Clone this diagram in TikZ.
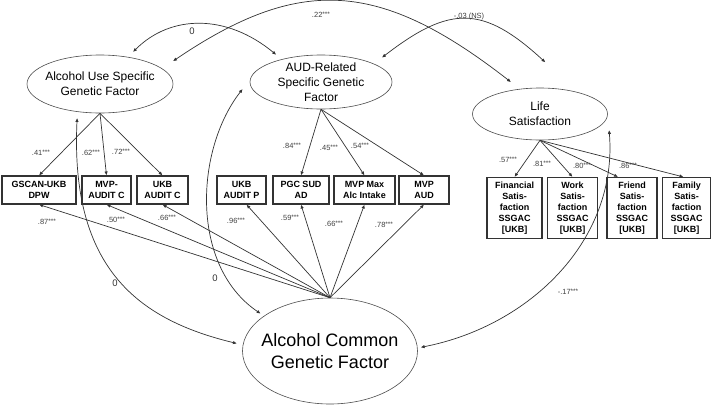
\documentclass[tikz,border=0pt]{standalone}
\usepackage{fontspec}
\setmainfont{Liberation Sans}
\usepackage{tikz}
\usetikzlibrary{
    arrows.meta,
    positioning,
    shapes.geometric,
}

\newcommand{\stars}{\raisebox{1.2pt}{\fontsize{6.5}{6.5}\selectfont ***}}

\begin{document}
\begin{tikzpicture}[
        x=1pt, y=-1pt,
        >={Latex[length=4pt,width=3.4pt]},
        latent/.style={
            ellipse, draw=black!70, semithick,
            inner xsep=-8pt, inner ysep=-3pt,
            align=center, font=\fontsize{12}{15}\selectfont
        },
        obs/.style={
            rectangle, draw=black!80, line width=1.1pt,
            minimum width=#1, minimum height=28pt, inner sep=2pt,
            align=center, font=\fontsize{9}{11}\selectfont\bfseries
        },
        obs/.default=50pt,
        loading/.style={->, black!80, line width=0.7pt},
        cov/.style={<->, black!80, line width=0.7pt},
        coef/.style={font=\fontsize{7.5}{8}\selectfont, text=black!75, inner sep=0pt},
        zero/.style={font=\fontsize{9.5}{11}\selectfont, text=black!80, inner sep=0pt},
    ]
    \useasboundingbox (0,0) rectangle (711,405);

    % ── Latent factors ──
    \node[latent, minimum width=146pt, minimum height=58pt] (aus) at (100,84)
        {Alcohol Use Specific\\Genetic Factor};
    \node[latent, minimum width=142pt, minimum height=54pt] (aud) at (321,82)
        {AUD-Related\\Specific Genetic\\Factor};
    \node[latent, minimum width=135pt, minimum height=52pt] (ls) at (540,114)
        {Life\\Satisfaction};
    \node[latent, minimum width=175pt, minimum height=106pt,
        font=\fontsize{18}{22}\selectfont] (acgf) at (330,351)
        {Alcohol Common\\Genetic Factor};

    % ── Row 1: alcohol indicators ──
    \node[obs=74pt] (gscan) at (39,190) {GSCAN-UKB\\DPW};
    \node[obs=49pt] (mvpc) at (106.5,190) {MVP-\\AUDIT C};
    \node[obs=51pt] (ukbc) at (162.5,190) {UKB\\AUDIT C};
    \node[obs=49pt] (ukbp) at (241.5,190) {UKB\\AUDIT P};
    \node[obs=56pt] (pgc) at (301,190) {PGC SUD\\AD};
    \node[obs=61pt] (mvpmax) at (364.5,190) {MVP Max\\Alc Intake};
    \node[obs=50pt] (mvpaud) at (424,190) {MVP\\AUD};

    % ── Row 1: satisfaction indicators ──
    \node[obs=55pt, minimum height=61pt] (fin) at (514.5,208)
        {Financial\\Satis-\\faction\\SSGAC\\{[UKB]}};
    \node[obs=50pt, minimum height=61pt] (work) at (572.5,208)
        {Work\\Satis-\\faction\\SSGAC\\{[UKB]}};
    \node[obs=50pt, minimum height=61pt] (friend) at (632,208)
        {Friend\\Satis-\\faction\\SSGAC\\{[UKB]}};
    \node[obs=48pt, minimum height=61pt] (family) at (686.5,208)
        {Family\\Satis-\\faction\\SSGAC\\{[UKB]}};

    % ── Specific loadings ──
    \draw[loading] (aus.south) -- (gscan.north);
    \draw[loading] (aus.south) -- (mvpc.north);
    \draw[loading] (aus.south) -- (ukbc.north);
    \draw[loading] (aud.south) -- (pgc.north);
    \draw[loading] (aud.south) -- (mvpmax.north);
    \draw[loading] (aud.south) -- (mvpaud.north);
    \draw[loading] (ls.south) -- (fin.north);
    \draw[loading] (ls.south) -- (work.north);
    \draw[loading] (ls.south) -- ([xshift=-14pt]friend.north);
    \draw[loading] (ls.south) -- ([xshift=-3pt]family.north);

    % ── Common loadings ──
    \draw[loading] (acgf.north) -- (gscan.south);
    \draw[loading] (acgf.north) -- (mvpc.south);
    \draw[loading] (acgf.north) -- (ukbc.south);
    \draw[loading] (acgf.north) -- ([xshift=5pt]ukbp.south);
    \draw[loading] (acgf.north) -- (pgc.south);
    \draw[loading] (acgf.north) -- (mvpmax.south);
    \draw[loading] (acgf.north) -- (mvpaud.south);

    % ── Covariances ──
    \draw[cov, shorten <=7pt, shorten >=7pt]
        (aus.44) .. controls (171,14) and (227,14) .. (aud.150);
    \draw[cov, shorten <=13pt, shorten >=11pt]
        (aus.14) .. controls (300,-25) and (380,-20) .. (ls.129);
    \draw[cov, shorten <=10pt, shorten >=44pt]
        (aud.19) .. controls (450,5) and (483,5) .. (ls.30);
    \draw[cov, shorten <=6pt, shorten >=6pt]
        (aus.231) .. controls (70,270) and (140,320) .. (acgf.176);
    \draw[cov, shorten <=12pt, shorten >=4pt]
        (aud.178) .. controls (195,150) and (190,266) .. (acgf.152);
    \draw[cov, shorten <=16pt, shorten >=3pt]
        (ls.east) .. controls (618,240) and (530,326) .. (acgf.2);

    % ── Coefficients ──
    \node[coef] (c22) at (321,15) {.22\stars};
    \node[zero] (z1) at (192,31) {0};
    \node[coef] (c03) at (469,17) {-.03 (NS)};
    \node[coef] (c41) at (41,153) {.41\stars};
    \node[coef] (c62) at (91,153) {.62\stars};
    \node[coef] (c72) at (121,152) {.72\stars};
    \node[coef] (c84) at (292,146) {.84\stars};
    \node[coef] (c45) at (329,148) {.45\stars};
    \node[coef] (c54) at (360,146) {.54\stars};
    \node[coef] (c57) at (508,160) {.57\stars};
    \node[coef] (c81) at (542,164) {.81\stars};
    \node[coef] (c80) at (582,166) {.80\stars};
    \node[coef] (c86) at (628,166) {.86\stars};
    \node[coef] (c87) at (47,222) {.87\stars};
    \node[coef] (c50) at (116,220) {.50\stars};
    \node[coef] (c66a) at (167,218) {.66\stars};
    \node[coef] (c96) at (236,221) {.96\stars};
    \node[coef] (c59) at (290,218) {.59\stars};
    \node[coef] (c66b) at (334,224) {.66\stars};
    \node[coef] (c78) at (384,225) {.78\stars};
    \node[zero] (z2) at (115,283) {0};
    \node[zero] (z3) at (215,278) {0};
    \node[coef] (c17) at (568,292) {-.17\stars};

\end{tikzpicture}
\end{document}
